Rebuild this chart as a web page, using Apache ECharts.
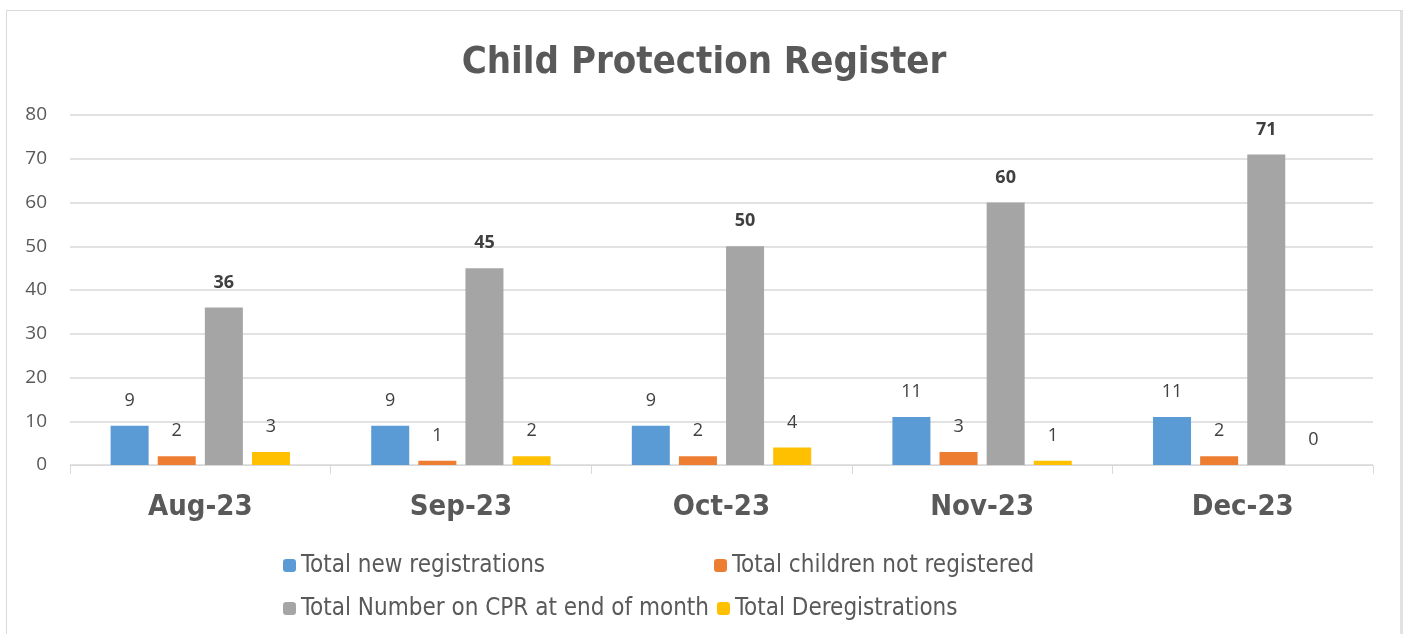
<!DOCTYPE html>
<html>
<head>
    <meta charset="utf-8">
    <title>Child Protection Register</title>
    <script src="https://cdn.jsdelivr.net/npm/echarts@6/dist/echarts.min.js"></script>
    <style>
        html, body { margin:0; padding:0; background:#fff; }
        #main { width:1408px; height:634px; }
        #frame { position:absolute; left:6px; top:10px; width:1393px; height:640px;
                 border:1px solid #d9d9d9; border-right:3px solid #e2e2e2; pointer-events:none; }
    </style>
</head>
<body>
    <div id="main"></div>
    <div id="frame"></div>

    <script type="text/javascript">
    var months = ['Aug-23', 'Sep-23', 'Oct-23', 'Nov-23', 'Dec-23'];
    var newRegistrations = [9, 9, 9, 11, 11];
    var notRegistered = [2, 1, 2, 3, 2];
    var totalOnCPR = [36, 45, 50, 60, 71];
    var deregistrations = [3, 2, 4, 1, 0];
    var yTicks = { min: 0, max: 80, interval: 10 };

    var narrow = '"DejaVu Sans Condensed", sans-serif';
    var plain = '"Open Sans", "Noto Sans", sans-serif';

    var makeSeries = function(name, values, color, bold) {
        return {
            name: name,
            type: 'bar',
            data: values,
            barWidth: 38,
            barGap: '24%',
            itemStyle: { color: color },
            label: {
                show: true,
                position: 'top',
                distance: 16,
                color: '#404040',
                fontFamily: plain,
                fontSize: 18,
                fontWeight: bold ? 'bold' : 'normal'
            }
        };
    };

    var chart = echarts.init(document.getElementById('main'));
    chart.setOption({
        animation: false,
        title: {
            text: 'Child Protection Register',
            left: 'center',
            top: 39,
            textStyle: { fontFamily: narrow, fontSize: 38, fontWeight: 'bold', color: '#595959' }
        },
        grid: { left: 70, right: 35, top: 115, bottom: 169 },
        legend: {
            left: 278,
            top: 543,
            width: 880,
            itemWidth: 13,
            itemHeight: 13,
            itemGap: 8,
            itemStyle: { borderWidth: 0 },
            textStyle: { fontFamily: narrow, fontSize: 24, color: '#595959', width: 405, lineHeight: 35 },
            data: ['Total new registrations', 'Total children not registered',
                   'Total Number on CPR at end of month', 'Total Deregistrations']
        },
        xAxis: {
            type: 'category',
            data: months,
            axisLine: { lineStyle: { color: '#d9d9d9', width: 1 } },
            axisTick: { show: true, length: 9, lineStyle: { color: '#d9d9d9' } },
            axisLabel: { margin: 28, fontFamily: narrow, fontSize: 29, fontWeight: 'bold', color: '#595959' }
        },
        yAxis: {
            type: 'value',
            min: yTicks.min,
            max: yTicks.max,
            interval: yTicks.interval,
            axisLine: { show: false },
            axisTick: { show: false },
            axisLabel: { margin: 23, fontFamily: plain, fontSize: 19, color: '#595959' },
            splitLine: { lineStyle: { color: '#d9d9d9', width: 1.5 } }
        },
        series: [
            makeSeries('Total new registrations', newRegistrations, '#5b9bd5', false),
            makeSeries('Total children not registered', notRegistered, '#ed7d31', false),
            makeSeries('Total Number on CPR at end of month', totalOnCPR, '#a5a5a5', true),
            makeSeries('Total Deregistrations', deregistrations, '#ffc000', false)
        ]
    });
    </script>
</body>
</html>
